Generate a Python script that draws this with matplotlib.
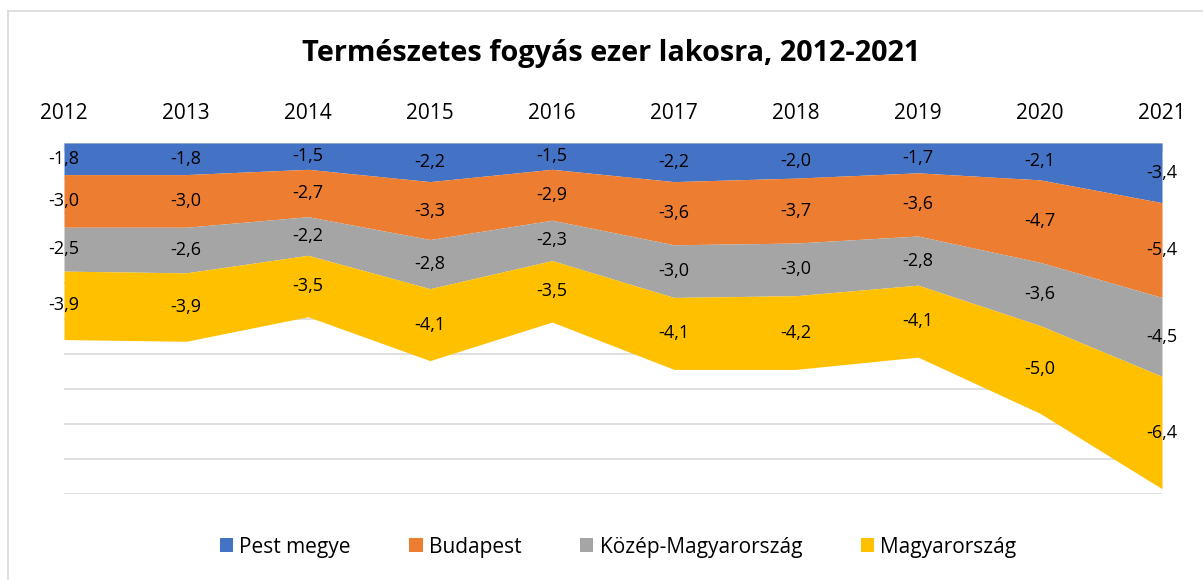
import matplotlib
matplotlib.use("Agg")
import matplotlib.pyplot as plt
from matplotlib.lines import Line2D
from matplotlib.patches import Patch
import numpy as np

years = ["2012", "2013", "2014", "2015", "2016", "2017", "2018", "2019", "2020", "2021"]
series_names = ["Pest megye", "Budapest", "Közép-Magyarország", "Magyarország"]
pest = [-1.8, -1.8, -1.5, -2.2, -1.5, -2.2, -2.0, -1.7, -2.1, -3.4]
budapest = [-3.0, -3.0, -2.7, -3.3, -2.9, -3.6, -3.7, -3.6, -4.7, -5.4]
kozep = [-2.5, -2.6, -2.2, -2.8, -2.3, -3.0, -3.0, -2.8, -3.6, -4.5]
magyar = [-3.9, -3.9, -3.5, -4.1, -3.5, -4.1, -4.2, -4.1, -5.0, -6.4]
colors = ["#4472C4", "#ED7D31", "#A5A5A5", "#FFC000"]
title = "Természetes fogyás ezer lakosra, 2012-2021"

plt.rcParams['font.family'] = ['Open Sans', 'DejaVu Sans']

fig = plt.figure(figsize=(12.03, 5.80), dpi=100)
ax = fig.add_axes([64/1203, 1 - 494/580, (1162-64)/1203, (494-143)/580])

x = np.arange(len(years))
data = [pest, budapest, kozep, magyar]
bottom = np.zeros(len(years))
for vals, col in zip(data, colors):
    v = np.array(vals)
    top = bottom + v
    ax.fill_between(x, bottom, top, color=col, linewidth=0, zorder=2)
    for xi, b, t, val in zip(x, bottom, top, v):
        ax.text(xi, (b + t) / 2, f"{val:.1f}".replace(".", ","), ha="center", va="center",
                fontsize=13, color="#000000", zorder=3)
    bottom = top

for g in range(0, -22, -2):
    ax.axhline(g, color="#D9D9D9", linewidth=1.2, zorder=1)

ax.set_xlim(0, len(years) - 1)
ax.set_ylim(-20, 0)
ax.set_yticks([])
ax.xaxis.tick_top()
ax.set_xticks(x)
ax.set_xticklabels(years, fontsize=15)
ax.tick_params(axis="x", direction="in", length=6, color="#D9D9D9", width=1, pad=14)
for s in ["left", "right", "bottom", "top"]:
    ax.spines[s].set_visible(False)

fig.text(611/1203, 1 - 53/580, title, ha="center", va="center", fontsize=20.8, fontweight="bold")

handles = [Patch(facecolor=c, edgecolor="none") for c in colors]
fig.legend(handles, series_names, loc="center", bbox_to_anchor=(618/1203, 1 - 547/580),
           ncol=4, frameon=False, fontsize=15, handlelength=0.65, handleheight=0.65,
           handletextpad=0.3, columnspacing=2.8)

# chart border (left and top edges)
fig.add_artist(Line2D([8/1203, 8/1203], [0, 1 - 11/580], transform=fig.transFigure,
                      color="#D9D9D9", linewidth=1.2))
fig.add_artist(Line2D([8/1203, 1], [1 - 11/580, 1 - 11/580], transform=fig.transFigure,
                      color="#D9D9D9", linewidth=1.2))

fig.savefig("out.png", dpi=100)
